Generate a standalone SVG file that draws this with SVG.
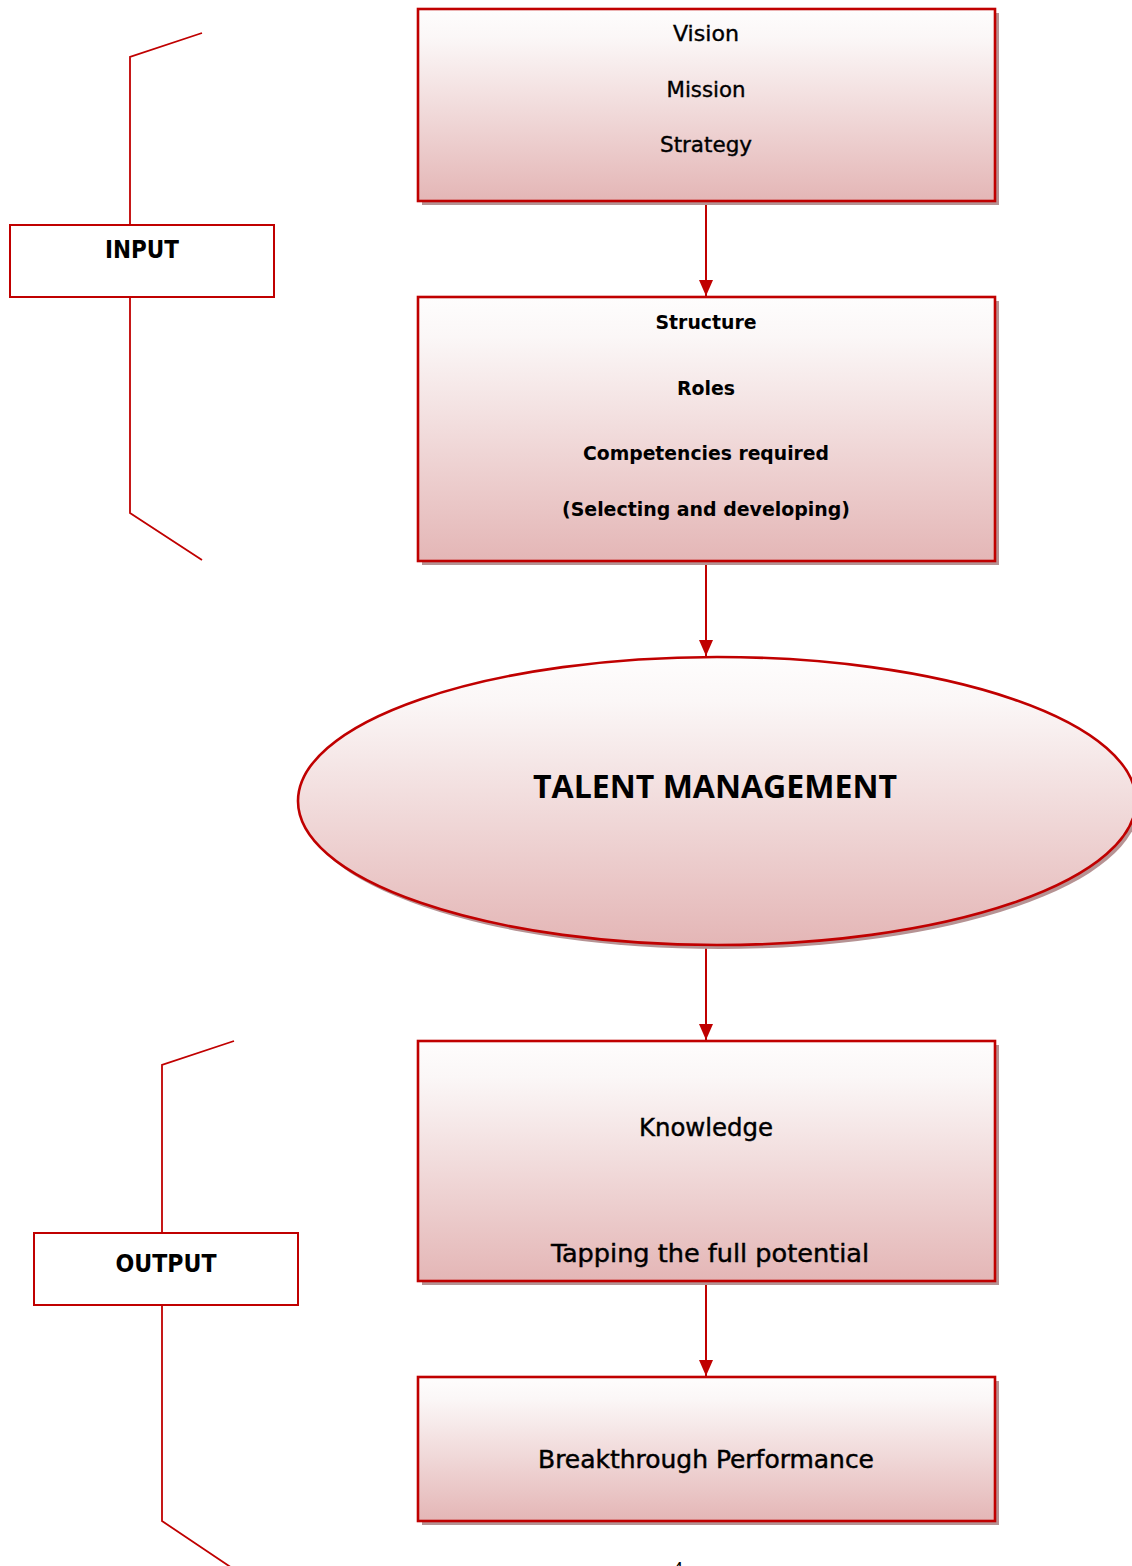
<svg xmlns="http://www.w3.org/2000/svg" width="1132" height="1566" viewBox="0 0 1132 1566">
  <style>
    .box { stroke: #c00000; stroke-width: 2.6; fill: url(#pinkFade); }
    .shadow { fill: #b69394; }
    .tag { fill: #ffffff; stroke: #c00000; stroke-width: 2; }
    .brace { fill: none; stroke: #c00000; stroke-width: 1.8; }
    .link { stroke: #c00000; stroke-width: 2; fill: none; marker-end: url(#head); }
    text { font-family: "DejaVu Sans Condensed", "DejaVu Sans", sans-serif; fill: #000; text-anchor: middle; }
    .t22 { font-size: 22px; stroke: #000; stroke-width: 0.35; }
    .b20 { font-size: 20px; font-weight: bold; }
    .t24 { font-size: 24px; stroke: #000; stroke-width: 0.4; }
    .b24 { font-size: 24px; font-weight: bold; }
    .title { font-family: "Open Sans", "DejaVu Sans Condensed", sans-serif; font-size: 33px; font-weight: bold; }
  </style>
  <defs>
    <linearGradient id="pinkFade" x1="0" y1="0" x2="0" y2="1">
      <stop offset="0" stop-color="#fefdfd"/>
      <stop offset="0.15" stop-color="#fbf7f7"/>
      <stop offset="1" stop-color="#e4b6b6"/>
    </linearGradient>
    <marker id="head" markerWidth="16" markerHeight="14" viewBox="0 0 16 14" refX="16" refY="7" orient="auto" markerUnits="userSpaceOnUse">
      <path d="M0,0 L16,7 L0,14 Z" fill="#c00000"/>
    </marker>
  </defs>

  <!-- connectors between the stages -->
  <g id="connectors">
    <line class="link" x1="706" y1="202" x2="706" y2="296"/>
    <line class="link" x1="706" y1="562" x2="706" y2="656"/>
    <line class="link" x1="706" y1="946" x2="706" y2="1040"/>
    <line class="link" x1="706" y1="1282" x2="706" y2="1376"/>
  </g>

  <!-- input bracket -->
  <g id="input-group">
    <polyline class="brace" points="202,33 130,57 130,225"/>
    <polyline class="brace" points="130,297 130,513 202,560"/>
    <rect class="tag" x="10" y="225" width="264" height="72"/>
    <text class="b24" x="142" y="258" textLength="74" lengthAdjust="spacingAndGlyphs">INPUT</text>
  </g>

  <!-- output bracket -->
  <g id="output-group">
    <polyline class="brace" points="234,1041 162,1065 162,1233"/>
    <polyline class="brace" points="162,1305 162,1521 232,1568"/>
    <rect class="tag" x="34" y="1233" width="264" height="72"/>
    <text class="b24" x="166" y="1272" textLength="101" lengthAdjust="spacingAndGlyphs">OUTPUT</text>
  </g>

  <g id="vision">
    <rect class="shadow" x="422" y="13" width="577" height="192"/>
    <rect class="box" x="418" y="9" width="577" height="192"/>
    <text class="t22" x="706" y="41" textLength="66" lengthAdjust="spacingAndGlyphs">Vision</text>
    <text class="t22" x="706" y="97" textLength="79" lengthAdjust="spacingAndGlyphs">Mission</text>
    <text class="t22" x="706" y="152" textLength="92" lengthAdjust="spacingAndGlyphs">Strategy</text>
  </g>

  <g id="structure">
    <rect class="shadow" x="422" y="301" width="577" height="264"/>
    <rect class="box" x="418" y="297" width="577" height="264"/>
    <text class="b20" x="706" y="329" textLength="101" lengthAdjust="spacingAndGlyphs">Structure</text>
    <text class="b20" x="706" y="395" textLength="58" lengthAdjust="spacingAndGlyphs">Roles</text>
    <text class="b20" x="706" y="460" textLength="246" lengthAdjust="spacingAndGlyphs">Competencies required</text>
    <text class="b20" x="706" y="516" textLength="288" lengthAdjust="spacingAndGlyphs">(Selecting and developing)</text>
  </g>

  <g id="talent-management">
    <ellipse class="shadow" cx="720" cy="805" rx="419" ry="144"/>
    <ellipse class="box" cx="717" cy="801" rx="419" ry="144"/>
    <text class="title" x="715" y="798" textLength="364" lengthAdjust="spacingAndGlyphs">TALENT MANAGEMENT</text>
  </g>

  <g id="knowledge">
    <rect class="shadow" x="422" y="1045" width="577" height="240"/>
    <rect class="box" x="418" y="1041" width="577" height="240"/>
    <text class="t24" x="706" y="1136" textLength="134" lengthAdjust="spacingAndGlyphs">Knowledge</text>
    <text class="t24" x="710" y="1262" textLength="318" lengthAdjust="spacingAndGlyphs">Tapping the full potential</text>
  </g>

  <g id="performance">
    <rect class="shadow" x="422" y="1381" width="577" height="144"/>
    <rect class="box" x="418" y="1377" width="577" height="144"/>
    <text class="t24" x="706" y="1468" textLength="336" lengthAdjust="spacingAndGlyphs">Breakthrough Performance</text>
  </g>

  <!-- page number, running off the bottom edge -->
  <text x="678" y="1575" style="font-size:18px; font-family:'Liberation Sans', sans-serif;">4</text>
</svg>
